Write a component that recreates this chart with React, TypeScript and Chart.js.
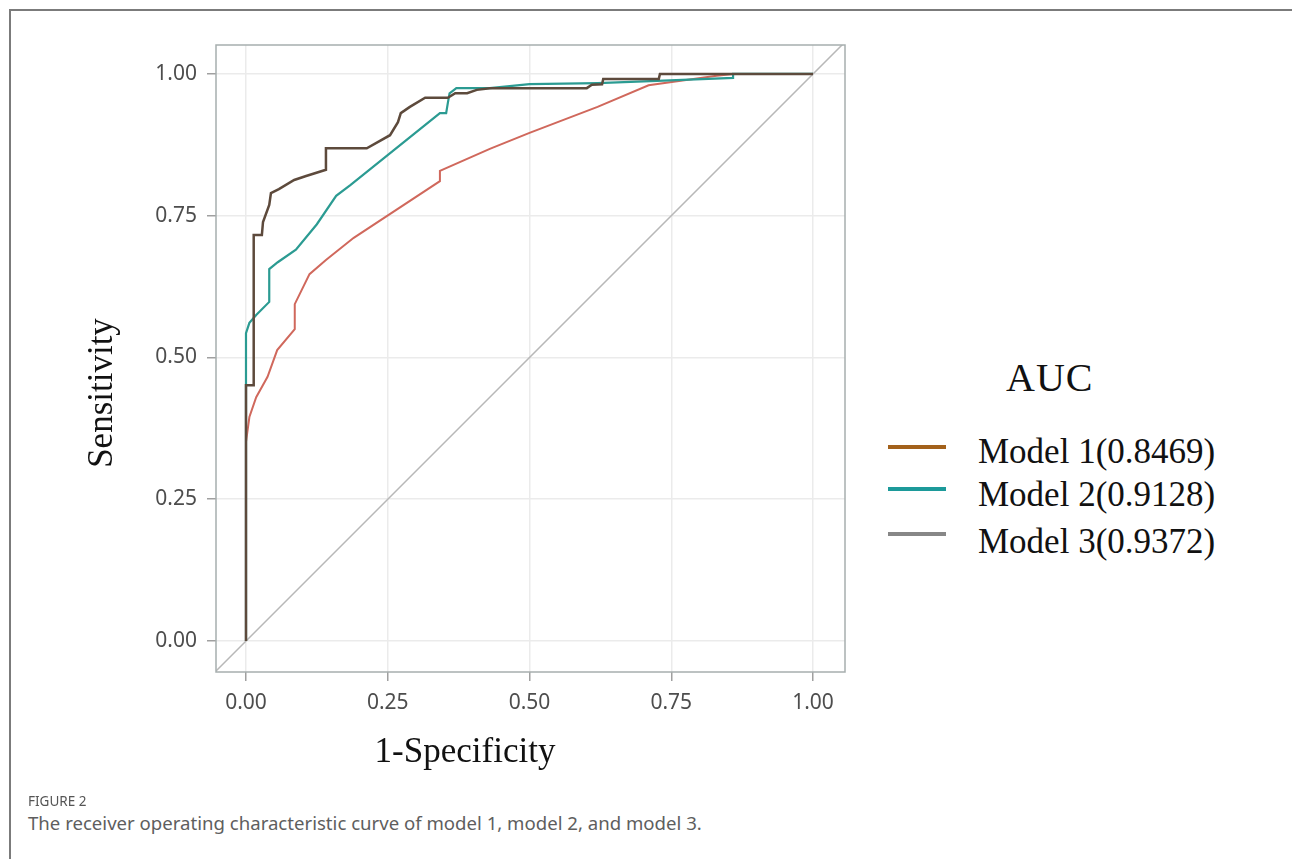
import React, { useEffect, useRef } from "react";
import { Chart, registerables } from "chart.js";

Chart.register(...registerables);

// ---- data ----
const tickValues = [0, 0.25, 0.5, 0.75, 1];
const xTickLabels = ["0.00", "0.25", "0.50", "0.75", "1.00"];
const yTickLabels = ["0.00", "0.25", "0.50", "0.75", "1.00"];

const model1Fpr = [0, 0, 0.006, 0.018, 0.038, 0.055, 0.086, 0.086, 0.112, 0.141, 0.19, 0.342, 0.342, 0.43, 0.5, 0.56, 0.62, 0.71, 0.83, 0.859, 1];
const model1Tpr = [0, 0.351, 0.395, 0.43, 0.466, 0.513, 0.55, 0.594, 0.647, 0.672, 0.711, 0.811, 0.829, 0.868, 0.896, 0.919, 0.942, 0.98, 0.997, 1, 1];

const model2Fpr = [0, 0, 0.006, 0.018, 0.041, 0.041, 0.056, 0.088, 0.125, 0.159, 0.184, 0.342, 0.353, 0.356, 0.359, 0.371, 0.43, 0.5, 0.62, 0.725, 0.859, 0.859, 1];
const model2Tpr = [0, 0.543, 0.561, 0.575, 0.598, 0.656, 0.668, 0.69, 0.735, 0.785, 0.804, 0.931, 0.931, 0.949, 0.966, 0.975, 0.975, 0.982, 0.984, 0.988, 0.993, 1, 1];

const model3Fpr = [0, 0, 0.0136, 0.0136, 0.028, 0.03, 0.041, 0.044, 0.058, 0.085, 0.106, 0.141, 0.141, 0.213, 0.254, 0.268, 0.273, 0.289, 0.316, 0.356, 0.369, 0.39, 0.407, 0.43, 0.601, 0.61, 0.628, 0.63, 0.728, 0.73, 1];
const model3Tpr = [0, 0.451, 0.451, 0.716, 0.716, 0.739, 0.769, 0.79, 0.797, 0.813, 0.82, 0.831, 0.869, 0.869, 0.892, 0.915, 0.931, 0.942, 0.958, 0.958, 0.966, 0.966, 0.972, 0.975, 0.975, 0.981, 0.982, 0.991, 0.991, 1, 1];

const refLineX = [-0.1, 1.1];
const refLineY = [-0.1, 1.1];

const legendTitle = "AUC";
const legendLabels = ["Model 1(0.8469)", "Model 2(0.9128)", "Model 3(0.9372)"];
const legendColors = ["#a3611b", "#1c9a9a", "#878787"];

const xTitle = "1-Specificity";
const yTitle = "Sensitivity";
const figLabel = "FIGURE 2";
const figCaption = "The receiver operating characteristic curve of model 1, model 2, and model 3.";

const toPoints = (xs: number[], ys: number[]) => xs.map((x, i) => ({ x, y: ys[i] }));

const SERIF = "'Liberation Serif', 'Times New Roman', serif";
const SANS = "'Noto Sans', 'Open Sans', sans-serif";

const panelPlugin = {
  id: "panelDecor",
  afterDatasetsDraw(chart: any) {
    const { ctx, chartArea: a } = chart;
    ctx.save();
    ctx.strokeStyle = "#a7aeae";
    ctx.lineWidth = 1.5;
    ctx.strokeRect(a.left, a.top, a.right - a.left, a.bottom - a.top);
    ctx.restore();
  },
  afterDraw(chart: any) {
    const { ctx, chartArea: a } = chart;
    ctx.save();
    ctx.fillStyle = "#111";
    ctx.font = `35px ${SERIF}`;
    ctx.textAlign = "center";
    ctx.textBaseline = "alphabetic";
    ctx.fillText(xTitle, a.left + 249, a.bottom + 90);
    ctx.translate(a.left - 104, a.top + 348);
    ctx.rotate(-Math.PI / 2);
    ctx.fillText(yTitle, 0, 0);
    ctx.restore();
  },
};

export default function App() {
  const ref = useRef<HTMLCanvasElement | null>(null);

  useEffect(() => {
    if (!ref.current) return;
    const tickFont = { family: SANS, size: 21 };
    const chart = new Chart(ref.current, {
      type: "line",
      data: {
        datasets: [
          {
            label: "ref",
            data: toPoints(refLineX, refLineY),
            borderColor: "#b8b8b8",
            borderWidth: 1.5,
            pointRadius: 0,
            order: 4,
            clip: 0 as any,
          },
          {
            label: legendLabels[0],
            data: toPoints(model1Fpr, model1Tpr),
            borderColor: "#d0685c",
            borderWidth: 2,
            pointRadius: 0,
            order: 3,
          },
          {
            label: legendLabels[1],
            data: toPoints(model2Fpr, model2Tpr),
            borderColor: "#2b9b92",
            borderWidth: 2.2,
            pointRadius: 0,
            order: 2,
          },
          {
            label: legendLabels[2],
            data: toPoints(model3Fpr, model3Tpr),
            borderColor: "#5d4a3c",
            borderWidth: 2.5,
            pointRadius: 0,
            order: 1,
          },
        ],
      },
      options: {
        animation: false,
        responsive: false,
        devicePixelRatio: 1,
        layout: { padding: { left: 0, top: 45, right: 25, bottom: 0 } },
        plugins: { legend: { display: false }, tooltip: { enabled: false } },
        elements: { line: { tension: 0 } },
        scales: {
          x: {
            type: "linear",
            min: -0.0529,
            max: 1.0564,
            afterFit: (s: any) => {
              s.height = 128;
            },
            afterBuildTicks: (s: any) => {
              s.ticks = tickValues.map((v) => ({ value: v }));
            },
            ticks: {
              autoSkip: false,
              maxRotation: 0,
              padding: 9,
              color: "#4d4d4d",
              font: tickFont,
              callback: (_v: any, i: number) => xTickLabels[i],
            },
            grid: {
              color: "#ebebeb",
              lineWidth: 1.5,
              drawTicks: true,
              tickLength: 9,
              tickColor: "#a0a0a0",
              tickWidth: 1.5,
            },
            border: { display: false },
          },
          y: {
            type: "linear",
            min: -0.0547,
            max: 1.0511,
            afterFit: (s: any) => {
              s.width = 216;
            },
            afterBuildTicks: (s: any) => {
              s.ticks = tickValues.map((v) => ({ value: v }));
            },
            ticks: {
              autoSkip: false,
              padding: 10,
              color: "#4d4d4d",
              font: tickFont,
              callback: (_v: any, i: number) => yTickLabels[i],
            },
            grid: {
              color: "#ebebeb",
              lineWidth: 1.5,
              drawTicks: true,
              tickLength: 9,
              tickColor: "#a0a0a0",
              tickWidth: 1.5,
            },
            border: { display: false },
          },
        },
      },
      plugins: [panelPlugin],
    } as any);
    return () => chart.destroy();
  }, []);

  const legendTops = [433.7, 476.7, 523.7];
  const legendLineCenters = [446.7, 489, 534];

  return (
    <div
      style={{
        position: "fixed",
        left: 0,
        top: 0,
        width: 1292,
        height: 859,
        overflow: "hidden",
        background: "#fff",
      }}
    >
      <div
        style={{
          position: "absolute",
          left: 9,
          top: 9,
          width: 1400,
          height: 1000,
          borderTop: "2px solid #7b7b7b",
          borderLeft: "2px solid #7b7b7b",
        }}
      />
      <canvas
        ref={ref}
        width={870}
        height={800}
        style={{ position: "absolute", left: 0, top: 0, width: 870, height: 800 }}
      />
      <div
        style={{
          position: "absolute",
          left: 1006,
          top: 357.5,
          fontFamily: SERIF,
          fontSize: 40,
          lineHeight: "40px",
          letterSpacing: 1,
          color: "#111",
          whiteSpace: "nowrap",
        }}
      >
        {legendTitle}
      </div>
      {legendLabels.map((lab, i) => (
        <React.Fragment key={lab}>
          <div
            style={{
              position: "absolute",
              left: 888,
              top: legendLineCenters[i] - 2,
              width: 58,
              height: 4,
              background: legendColors[i],
            }}
          />
          <div
            style={{
              position: "absolute",
              left: 978,
              top: legendTops[i],
              fontFamily: SERIF,
              fontSize: 35,
              lineHeight: "35px",
              color: "#111",
              whiteSpace: "nowrap",
            }}
          >
            {lab}
          </div>
        </React.Fragment>
      ))}
      <div
        style={{
          position: "absolute",
          left: 28,
          top: 794.5,
          fontFamily: SANS,
          fontSize: 13.5,
          lineHeight: "13.5px",
          color: "#555",
          whiteSpace: "nowrap",
        }}
      >
        {figLabel}
      </div>
      <div
        style={{
          position: "absolute",
          left: 28,
          top: 813.6,
          fontFamily: SANS,
          fontSize: 18.6,
          lineHeight: "18.6px",
          color: "#5e5e5e",
          whiteSpace: "nowrap",
        }}
      >
        {figCaption}
      </div>
    </div>
  );
}
